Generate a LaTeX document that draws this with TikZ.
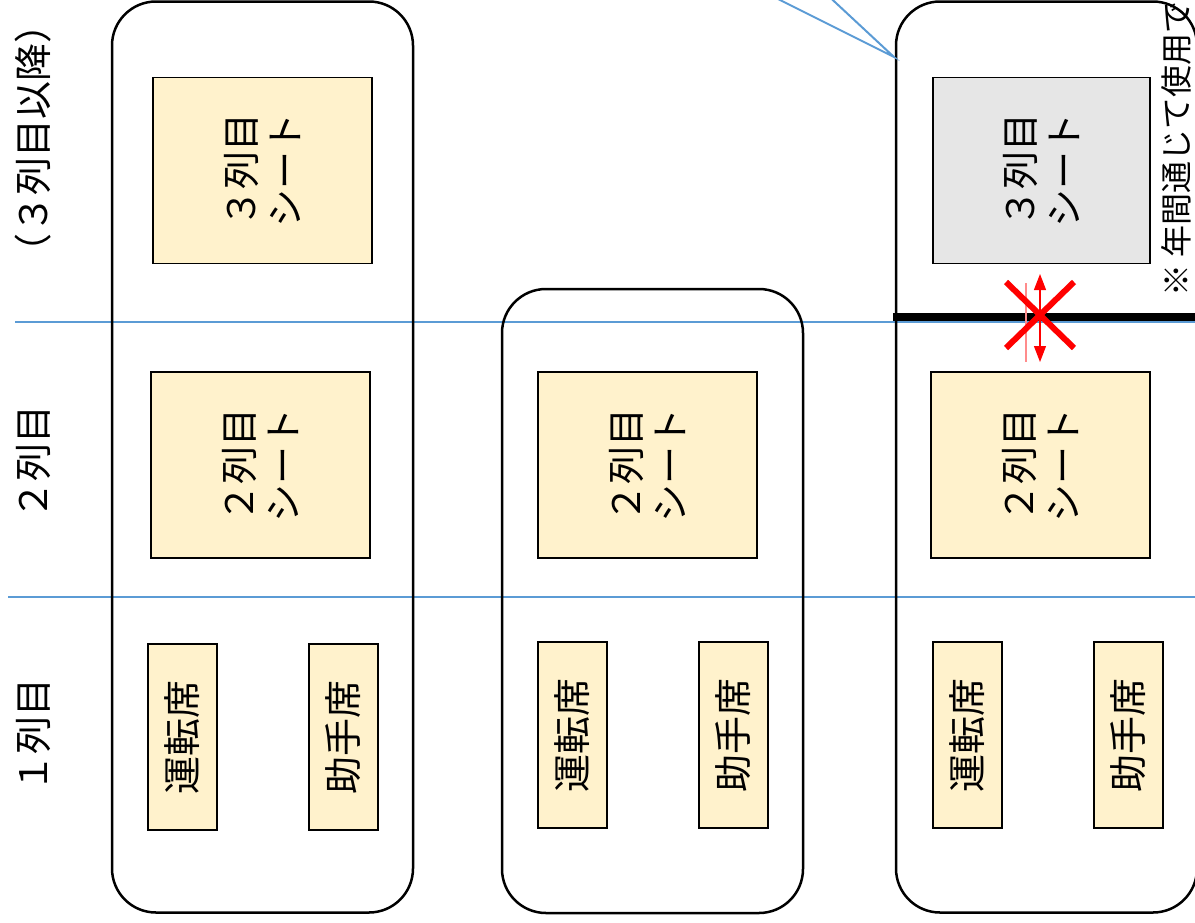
\documentclass[tikz,border=0pt]{standalone}
\usepackage{fontspec}
\setmainfont{Noto Sans CJK JP}
\usetikzlibrary{positioning,arrows.meta}
\definecolor{seatyellow}{HTML}{FFF2CC}
\definecolor{seatgray}{HTML}{E6E6E6}
\definecolor{guideblue}{HTML}{5B9BD5}
\tikzset{node distance=80.5pt, auto,
  car/.style={draw, line width=1.25pt, rounded corners=22pt, minimum width=150.5pt, inner sep=0pt},
  seat/.style={draw, line width=0.8pt, fill=seatyellow, rotate=90, align=center, inner sep=0pt,
    font=\fontsize{19}{22}\selectfont},
  bigseat/.style={seat, minimum width=93pt, minimum height=109.5pt},
  frontseat/.style={seat, minimum width=93pt, minimum height=34.5pt},
  rowlabel/.style={rotate=90, font=\fontsize{19}{22}\selectfont},
  guide/.style={guideblue, line width=0.7pt}}

\begin{document}
\begin{tikzpicture}[x=0.5pt, y=-0.5pt]

           \useasboundingbox (0,0) rectangle (1195,922);

           % row guides
           \coordinate (gaL) at (15,322);
           \coordinate (gaR) at (1195,322);
           \coordinate (gbL) at (8,597);
           \coordinate (gbR) at (1195,597);
           \draw[guide] (gaL) -- (gaR);
           \draw[guide] (gbL) -- (gbR);

           \node (lab3) [rowlabel] at (33,138) {（３列目以降）};
           \node (lab2) [rowlabel] at (33,462) {２列目};
           \node (lab1) [rowlabel] at (33,735) {１列目};

           % cars
           \node (car1) [car, minimum height=455.5pt] at (262.5,457) {};
           \node (car2) [car, minimum height=312pt] at (652.5,601) {};
           \node (car3) [car, minimum height=455.5pt] at (1046.5,457) {};

           \node (rowthreeA) [bigseat] at (262.5,170.5) {３列目\\シート};
           \node (rowtwoA) [bigseat] at (260.5,465) {２列目\\シート};
           \node (drv1) [frontseat] at (182.5,737) {運転席};
           \node (pas1) [right of=drv1, frontseat] {助手席};

           \node (rowtwoB) [bigseat] at (647.5,465) {２列目\\シート};
           \node (drv2) [frontseat] at (572.5,735) {運転席};
           \node (pas2) [right of=drv2, frontseat] {助手席};

           \node (rowthreeC) [bigseat, fill=seatgray, minimum height=108.5pt] at (1041.5,170.5) {３列目\\シート};
           \node (rowtwoC) [bigseat] at (1040.5,465) {２列目\\シート};
           \node (drv3) [frontseat] at (967.5,735) {運転席};
           \node (pas3) [right of=drv3, frontseat] {助手席};

           % fixed partition
           \coordinate (barL) at (893,317);
           \coordinate (barR) at (1200,317);
           \draw[line width=4pt] (barL) -- (barR);

           \coordinate (cross) at (1040,315);
           \coordinate (arrTop) at (1040,274);
           \coordinate (arrBot) at (1040,362);
           \draw[red!45, line width=0.6pt] ([xshift=-7]cross |- 0,283) -- ([xshift=-7]cross |- arrBot);
           \draw[red, line width=0.6pt, {Triangle[length=8pt,width=6pt]}-{Triangle[length=8pt,width=6pt]}] (arrTop) -- (arrBot);
           \draw[red, line width=3pt] ([shift={(-34,-33)}]cross) -- ([shift={(34,33)}]cross);
           \draw[red, line width=3pt] ([shift={(-34,33)}]cross) -- ([shift={(34,-33)}]cross);

           \node (note) [rotate=90, anchor=west, font=\fontsize{16}{19}\selectfont] at (1176,304) {※ 年間通じて使用で};

           % callout
           \coordinate (calltip) at (894,57);
           \coordinate (callA) at (760,-10);
           \coordinate (callB) at (822,-10);
           \draw[guideblue, line width=1pt] (callA) -- (calltip) -- (callB);

         \end{tikzpicture}
\end{document}
